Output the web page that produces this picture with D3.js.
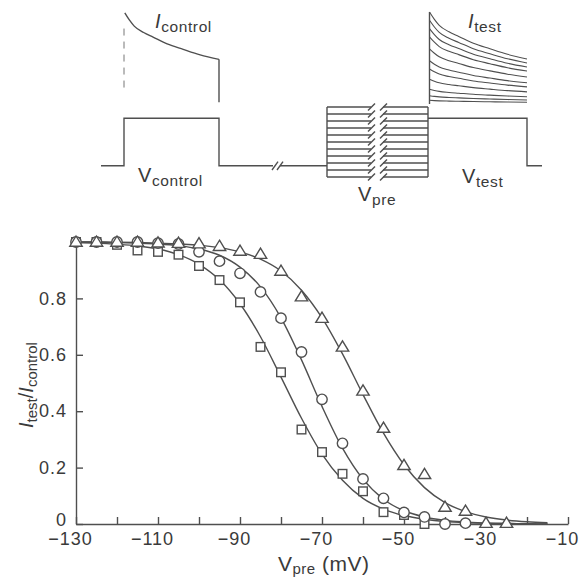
<!DOCTYPE html>
<html>
<head>
<meta charset="utf-8">
<script src="https://cdn.jsdelivr.net/npm/d3@7"></script>
<style>
  body { margin: 0; background: #fff; }
  svg { display: block; font-family: "Liberation Sans", Arial, sans-serif; }
</style>
</head>
<body>
<svg width="587" height="578"></svg>
<script>
// ---- data ----
const triangleV = [-130, -125, -120, -115, -110, -105, -100, -95, -90, -85, -80, -75, -70, -65, -60, -55, -50, -45, -40, -35, -30, -25]
const triangleVals = [1.0, 1.0, 1.0, 1.0, 0.997, 0.996, 0.994, 0.985, 0.968, 0.957, 0.897, 0.806, 0.73, 0.628, 0.472, 0.34, 0.208, 0.176, 0.06, 0.046, 0.003, 0.003]

const circleV = [-130, -125, -120, -115, -110, -105, -100, -95, -90, -85, -80, -75, -70, -65, -60, -55, -50, -45, -40, -35]
const circleVals = [1.0, 1.0, 1.0, 1.0, 0.996, 0.993, 0.965, 0.932, 0.889, 0.823, 0.73, 0.61, 0.442, 0.286, 0.16, 0.091, 0.041, 0.025, 0.0, 0.003]

const squareV = [-130, -125, -120, -115, -110, -105, -100, -95, -90, -85, -80, -75, -70, -65, -60, -55, -50, -45]
const squareVals = [1.0, 1.0, 0.99, 0.97, 0.965, 0.955, 0.915, 0.865, 0.786, 0.628, 0.538, 0.335, 0.255, 0.178, 0.116, 0.042, 0.032, 0.0]

// fitted curves, read at 5 mV steps
const fitV = [-130, -125, -120, -115, -110, -105, -100, -95, -90, -85, -80, -75, -70, -65, -60, -55, -50, -45, -40, -35, -30, -25, -20, -15]
const fitTriangle = [1.0, 1.0, 0.999, 0.998, 0.996, 0.993, 0.989, 0.98, 0.965, 0.939, 0.897, 0.829, 0.731, 0.603, 0.459, 0.322, 0.21, 0.129, 0.076, 0.044, 0.025, 0.014, 0.008, 0.005]
const fitCircle = [1.0, 1.0, 0.998, 0.996, 0.993, 0.987, 0.975, 0.953, 0.911, 0.841, 0.731, 0.582, 0.417, 0.269, 0.159, 0.088, 0.047, 0.025, 0.013, 0.007, 0.003, 0.002, 0.001, 0.0]
const fitSquare = [0.998, 0.996, 0.992, 0.986, 0.975, 0.955, 0.921, 0.866, 0.781, 0.664, 0.521, 0.375, 0.248, 0.155, 0.091, 0.053, 0.03, 0.017, 0.009, 0.005, 0.003, 0.002, 0.001, 0.0]

const xTicks = [-130, -120, -110, -100, -90, -80, -70, -60, -50, -40, -30, -20, -10]
const xLabels = [-130, -110, -90, -70, -50, -30, -10]
const yTicks = [0, 0.2, 0.4, 0.6, 0.8]

// ---- pulse protocol sketch (schematic units) ----
const holdV = -114
const stepV = -46
const preLevels = [-130, -120, -110, -100, -90, -80, -70, -60, -50, -40, -30]
const ctrlOn = 23, ctrlOff = 118, gapT = 174, preOn = 226, preOff = 327, testOff = 426, endT = 441
// current decay shape
const decayT = [0, 0.05, 0.1, 0.2, 0.3, 0.45, 0.62, 0.8, 1.0]
const decayI = [1.0, 0.92, 0.855, 0.785, 0.735, 0.66, 0.6, 0.54, 0.49]
const ctrlAmp = 0.99
const testAmps = [1.0, 0.91, 0.82, 0.73, 0.6, 0.47, 0.38, 0.27, 0.16, 0.09, 0.04]

const ink = '#4f4f4f'
const textInk = '#3a3a3a'
let svg = d3.select('svg')

// ================= top sketch =================
const tS = d3.scaleLinear().domain([0, endT]).range([101, 542])
const vS = d3.scaleLinear().domain([-130, -30]).range([177, 107])
const iS = d3.scaleLinear().domain([0, 1]).range([104, 12])

const sketch = svg.append('g').attr('fill', 'none').attr('stroke', ink).attr('stroke-width', 1.4)
const pl = d3.line().x(d => tS(d[0])).y(d => vS(d[1]))

// control voltage step and holding line up to the break
sketch.append('path').attr('d', pl([[0, holdV], [ctrlOn, holdV], [ctrlOn, stepV], [ctrlOff, stepV], [ctrlOff, holdV], [gapT - 2, holdV]]))
sketch.append('path').attr('d', pl([[gapT + 5, holdV], [preOn, holdV]]))
// "//" break marks
;[gapT - 3, gapT + 2].forEach(t => {
  sketch.append('path').attr('d', pl([[t, holdV - 6], [t + 6, holdV + 6]]))
})

// prepulse family
preLevels.forEach(lv => {
  sketch.append('path').attr('d', pl([[preOn, lv], [preOn + 44, lv]]))
  sketch.append('path').attr('d', pl([[preOn + 56, lv], [preOff, lv]]))
  sketch.append('path').attr('d', pl([[preOn + 41, lv - 5], [preOn + 48, lv + 5]]))
  sketch.append('path').attr('d', pl([[preOn + 53, lv - 5], [preOn + 60, lv + 5]]))
})
sketch.append('path').attr('d', pl([[preOn, d3.min(preLevels)], [preOn, d3.max(preLevels)]]))
sketch.append('path').attr('d', pl([[preOff, d3.min(preLevels)], [preOff, d3.max(preLevels)]]))

// test step
sketch.append('path').attr('d', pl([[preOff, stepV], [testOff, stepV], [testOff, holdV], [endT, holdV]]))

// currents
const cl = d3.line().x(d => tS(d[0])).y(d => iS(d[1])).curve(d3.curveMonotoneX)
const trace = (t0, t1, amp) => decayT.map((f, i) => [t0 + f * (t1 - t0), amp * decayI[i]])

sketch.append('path')
  .attr('d', cl(trace(ctrlOn + 0.8, ctrlOff, ctrlAmp)))
sketch.append('line')
  .attr('x1', tS(ctrlOff)).attr('x2', tS(ctrlOff))
  .attr('y1', iS(ctrlAmp * decayI[decayI.length - 1])).attr('y2', iS(0.02))
sketch.append('line')
  .attr('x1', tS(ctrlOn)).attr('x2', tS(ctrlOn))
  .attr('y1', iS(0.82)).attr('y2', iS(0.13))
  .attr('stroke-dasharray', '7,6').attr('stroke-width', 1).attr('stroke', '#777')

sketch.selectAll('.itest')
  .data(testAmps)
  .enter()
  .append('path')
  .attr('class', 'itest')
  .attr('stroke-width', 1.1)
  .attr('d', a => cl(trace(preOff + 1.5, testOff, a)))
sketch.append('line')
  .attr('x1', tS(preOff + 1.5)).attr('x2', tS(preOff + 1.5))
  .attr('y1', iS(0)).attr('y2', iS(d3.max(testAmps)))

// sketch labels
const lab = (x, y, main, sub, italic) => {
  const t = svg.append('text').attr('x', x).attr('y', y).attr('fill', textInk)
    .attr('font-size', 20).attr('letter-spacing', 0.6)
  t.append('tspan').attr('font-style', italic ? 'italic' : 'normal').text(main)
  t.append('tspan').attr('font-size', 15.5).attr('dy', 4).text(sub)
}
lab(155, 28, 'I', 'control', true)
lab(468, 28, 'I', 'test', true)
lab(138, 182, 'V', 'control', false)
lab(358, 201, 'V', 'pre', false)
lab(462, 183, 'V', 'test', false)

// ================= availability plot =================
const x = d3.scaleLinear().domain([-130, -10]).range([76, 568])
const y = d3.scaleLinear().domain([0, 1]).range([524, 242])

const xAxis = svg.append('g')
  .attr('transform', `translate(0,${y(0)})`)
  .call(d3.axisBottom(x).tickValues(xTicks).tickSize(-7).tickSizeOuter(0).tickPadding(8)
    .tickFormat(d => xLabels.includes(d) ? d3.format('d')(d) : ''))
const yAxis = svg.append('g')
  .attr('transform', `translate(${x(-130)},0)`)
  .call(d3.axisLeft(y).tickValues(yTicks).tickSize(-7).tickSizeOuter(0).tickPadding(9)
    .tickFormat(d => d === 0 ? '0' : d3.format('.1f')(d)))

;[xAxis, yAxis].forEach(a => {
  a.attr('font-family', null).attr('font-size', 18)
  a.selectAll('path, line').attr('stroke', ink).attr('stroke-width', 1.4)
  a.selectAll('text').attr('fill', textInk).attr('letter-spacing', 1)
})
// minus sign hangs left of the digits, which sit centred on the tick
xAxis.selectAll('text').attr('dx', -6)
// the zero label sits a little above the axis line
yAxis.selectAll('.tick').filter(d => d === 0).select('text').attr('y', -4)

// fitted curves
const fl = d3.line().x((d, i) => x(fitV[i])).y(d => y(d)).curve(d3.curveMonotoneX)
;[fitTriangle, fitCircle, fitSquare].forEach(f => {
  svg.append('path').attr('d', fl(f)).attr('fill', 'none').attr('stroke', ink).attr('stroke-width', 1.4)
})

// markers
const marks = svg.append('g').attr('fill', '#fff').attr('stroke', ink).attr('stroke-width', 1.4)
marks.selectAll('.sq')
  .data(squareVals)
  .enter()
  .append('rect')
  .attr('class', 'sq')
  .attr('x', (d, i) => x(squareV[i]) - 4.3)
  .attr('y', d => y(d) - 4.3)
  .attr('width', 8.6)
  .attr('height', 8.6)
marks.selectAll('.ci')
  .data(circleVals)
  .enter()
  .append('circle')
  .attr('class', 'ci')
  .attr('cx', (d, i) => x(circleV[i]))
  .attr('cy', d => y(d))
  .attr('r', 5.2)
marks.selectAll('.tr')
  .data(triangleVals)
  .enter()
  .append('path')
  .attr('class', 'tr')
  .attr('transform', (d, i) => `translate(${x(triangleV[i])},${y(d)})`)
  .attr('d', 'M0,-6L6.2,4.2L-6.2,4.2Z')

// axis titles
const xt = svg.append('text').attr('x', 278).attr('y', 571).attr('fill', textInk)
  .attr('font-size', 21).attr('letter-spacing', 0.5)
xt.append('tspan').text('V')
xt.append('tspan').attr('font-size', 15).attr('dy', 3).text('pre')
xt.append('tspan').attr('dy', -3).text(' (mV)')

const yt = svg.append('text')
  .attr('transform', 'translate(33,385) rotate(-90)')
  .attr('text-anchor', 'middle')
  .attr('fill', textInk)
  .attr('font-size', 20)
yt.append('tspan').attr('font-style', 'italic').text('I')
yt.append('tspan').attr('font-size', 15).attr('dy', 4).text('test')
yt.append('tspan').attr('dy', -4).text('/')
yt.append('tspan').attr('font-style', 'italic').text('I')
yt.append('tspan').attr('font-size', 15).attr('dy', 4).text('control')
</script>
</body>
</html>
